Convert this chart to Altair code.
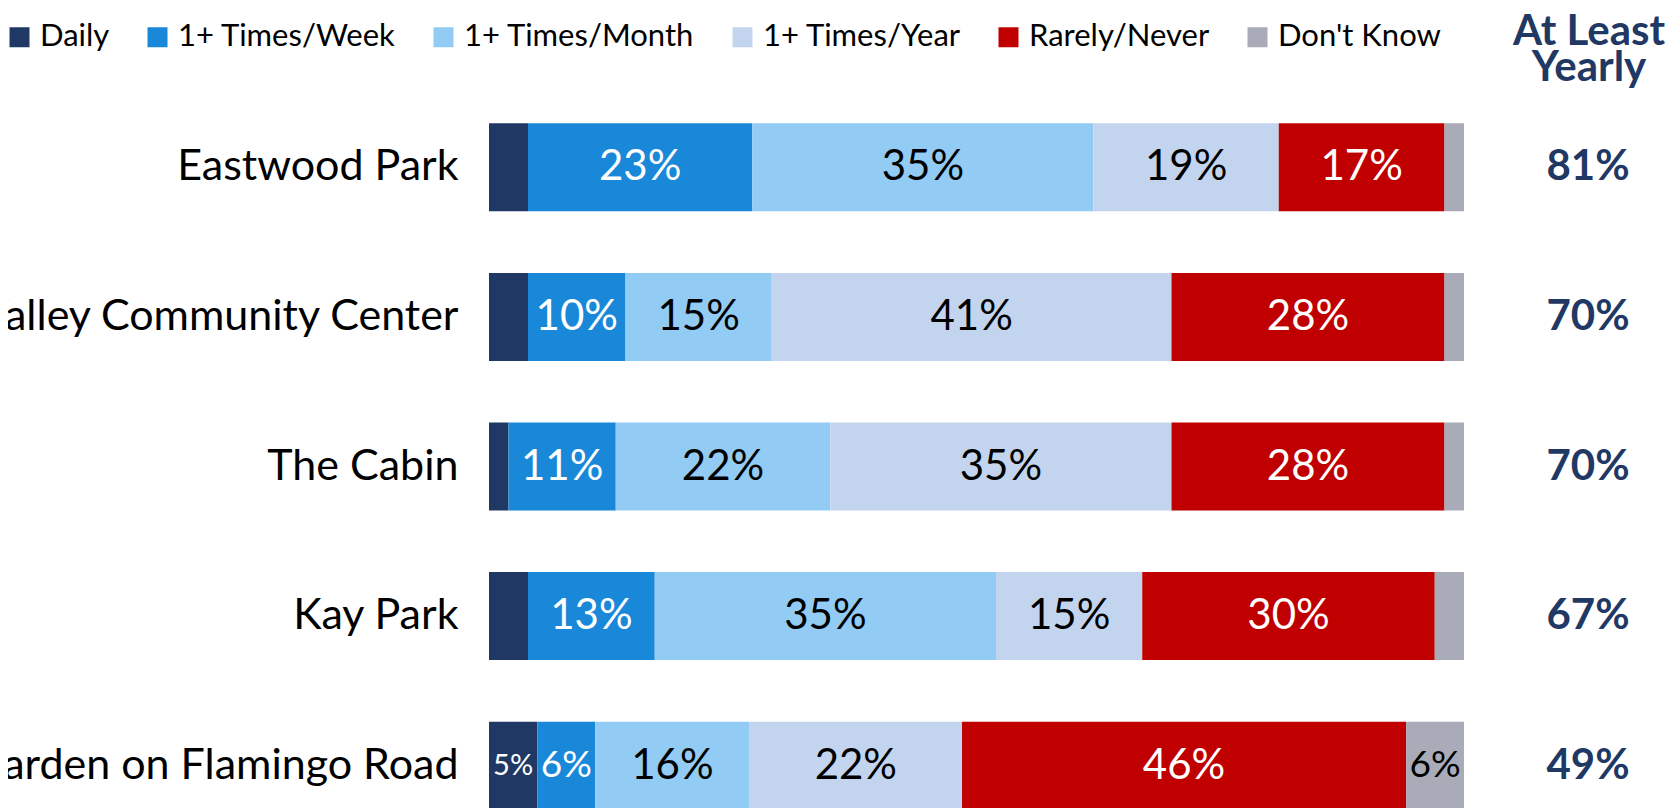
import altair as alt
import pandas as pd

places = ["Eastwood Park", "Valley Community Center", "The Cabin", "Kay Park", "Garden on Flamingo Road"]
categories = ["Daily", "1+ Times/Week", "1+ Times/Month", "1+ Times/Year", "Rarely/Never", "Don't Know"]
daily = [4, 4, 2, 4, 5]
week = [23, 10, 11, 13, 6]
month = [35, 15, 22, 35, 16]
year = [19, 41, 35, 15, 22]
rarely = [17, 28, 28, 30, 46]
dont_know = [2, 2, 2, 3, 6]
at_least_yearly = [81, 70, 70, 67, 49]
colors = ["#1F3864", "#1A88D8", "#92CBF3", "#C3D5EE", "#C00000", "#A9ABB8"]

series = [daily, week, month, year, rarely, dont_know]
rows = []
for ci, (cat, vals) in enumerate(zip(categories, series)):
    for p, v in zip(places, vals):
        rows.append({"place": p, "cat": cat, "order": ci, "value": v})
df = pd.DataFrame(rows)
summary = pd.DataFrame({"place": places, "yearly": at_least_yearly})

W = 975
PAD_L = 481
PAD_T = 84.5
H_TOTAL = 800
H = H_TOTAL - PAD_T
STEP = 149.6
FONT = "Lato"

yscale = alt.Scale(domain=places, range=[0, STEP * 5], paddingInner=0.412, paddingOuter=0.206)
y_axis = alt.Y("place:N", sort=places, scale=yscale,
               axis=alt.Axis(title=None, ticks=False, domain=False, labelFont=FONT,
                             labelFontSize=43, labelColor="black", labelPadding=31,
                             labelLimit=1000))
y_plain = alt.Y("place:N", sort=places)

base = (
    alt.Chart(df)
    .transform_joinaggregate(total="sum(value)", groupby=["place"])
    .transform_calculate(pct="datum.value / datum.total")
    .transform_stack(stack="pct", groupby=["place"], as_=["x0", "x1"],
                     sort=[alt.SortField("order", order="ascending")])
    .transform_calculate(mid="(datum.x0 + datum.x1) / 2", label="datum.value + '%'")
)

bars = base.mark_bar().encode(
    x=alt.X("x0:Q", scale=alt.Scale(domain=[0, 1], nice=False, zero=True), axis=None),
    x2="x1:Q",
    y=y_axis,
    color=alt.Color("cat:N", sort=categories,
                    scale=alt.Scale(domain=categories, range=colors),
                    legend=alt.Legend(orient="none", legendX=-485, legendY=-71,
                                      direction="horizontal", columns=6, columnPadding=32,
                                      symbolType="square", symbolSize=400,
                                      symbolStrokeWidth=0, labelFont=FONT, labelFontSize=31,
                                      labelOffset=5, labelColor="black", labelLimit=500,
                                      title=None, padding=0)),
)

labels = (
    base.transform_filter("datum.value >= 5")
    .transform_calculate(fs="datum.pct < 0.055 ? 29 : (datum.pct < 0.075 ? 37 : 42)")
    .mark_text(font=FONT, baseline="middle", align="center")
    .encode(
        x="mid:Q",
        y=y_plain,
        text="label:N",
        size=alt.Size("fs:Q", scale=None, legend=None),
        color=alt.condition("datum.order == 0 || datum.order == 1 || datum.order == 4",
                            alt.value("white"), alt.value("black")),
    )
)

yearly = (
    alt.Chart(summary)
    .transform_calculate(lbl="datum.yearly + '%'")
    .mark_text(font=FONT, fontWeight="bold", fontSize=42, color="#1F3864",
               baseline="middle", align="center")
    .encode(x=alt.value(1099), y=y_plain, text="lbl:N")
)

header = (
    alt.Chart(pd.DataFrame({"h": [0]}))
    .mark_text(text=["At Least", "Yearly"], font=FONT, fontWeight="bold", fontSize=42,
               color="#1F3864", lineHeight=36, baseline="alphabetic", align="center")
    .encode(x=alt.value(1100), y=alt.value(-47.5))
)

chart = (
    alt.layer(bars, labels, yearly, header)
    .properties(width=W, height=H, autosize=alt.AutoSizeParams(type="none"),
                padding={"left": PAD_L, "top": PAD_T, "right": 205, "bottom": 0})
    .configure_view(stroke=None)
)

chart.save("out.html", embed_options={"renderer": "svg", "actions": False})
